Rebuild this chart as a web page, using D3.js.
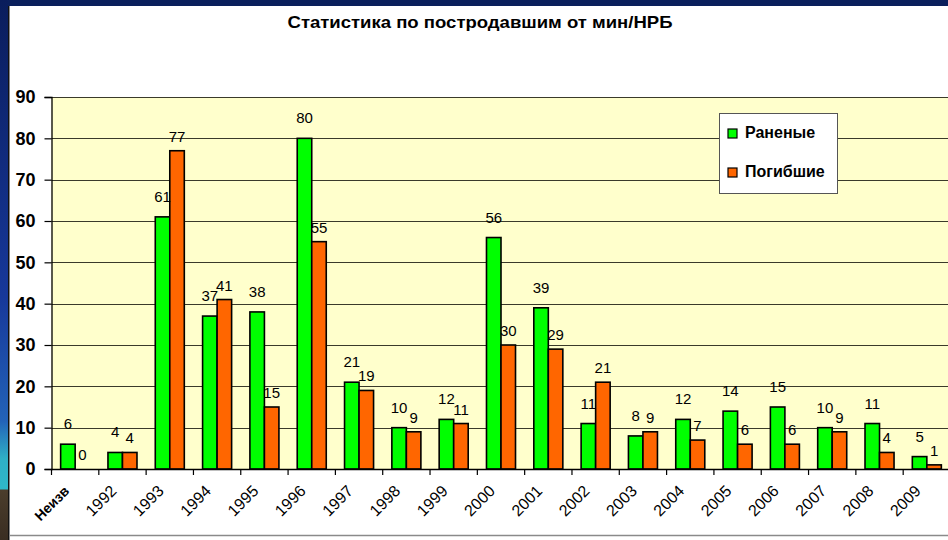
<!DOCTYPE html>
<html>
<head>
<meta charset="utf-8">
<script src="https://cdn.jsdelivr.net/npm/d3@7"></script>
<style>
    html, body { margin: 0; padding: 0; background: #fff; }
    svg { display: block; font-family: "Liberation Sans", Arial, sans-serif; }
</style>
</head>
<body>
<div id="chart"></div>
<script>
(function(){
    "use strict";

    var categories = ["Неизв", "1992", "1993", "1994", "1995", "1996", "1997", "1998", "1999", "2000",
                      "2001", "2002", "2003", "2004", "2005", "2006", "2007", "2008", "2009"];
    var wounded = [6, 4, 61, 37, 38, 80, 21, 10, 12, 56, 39, 11, 8, 12, 14, 15, 10, 11, 3];
    var killed  = [0, 4, 77, 41, 15, 55, 19, 9, 11, 30, 29, 21, 9, 7, 6, 6, 9, 4, 1];
    // labels as printed on the chart (the 2009 wounded bar is drawn lower than its label)
    var woundedLabels = [6, 4, 61, 37, 38, 80, 21, 10, 12, 56, 39, 11, 8, 12, 14, 15, 10, 11, 5];
    var killedLabels  = [0, 4, 77, 41, 15, 55, 19, 9, 11, 30, 29, 21, 9, 7, 6, 6, 9, 4, 1];
    var seriesNames = ["Раненые", "Погибшие"];
    var yTicks = [0, 10, 20, 30, 40, 50, 60, 70, 80, 90];

    var width = 948, height = 540;
    var plot = { left: 51.5, right: 950.5, top: 97, bottom: 469 };
    var colors = ["#00ff00", "#ff6600"];

    var svg = d3.select("#chart")
        .append("svg")
        .attr("width", width)
        .attr("height", height);

    // frame: navy bar on top, gradient strip on the left
    var grad = svg.append("defs").append("linearGradient")
        .attr("id", "leftStrip")
        .attr("x1", 0).attr("y1", 0).attr("x2", 0).attr("y2", 1);
    [["0%", "#0a1d5c"], ["55%", "#17389a"], ["78%", "#2363b8"], ["85%", "#2fb0c6"],
     ["90.5%", "#2fb8c8"], ["90.8%", "#4b3d2c"], ["100%", "#3a2e22"]].forEach(function(s) {
        grad.append("stop").attr("offset", s[0]).attr("stop-color", s[1]);
    });

    svg.append("rect")
        .attr("x", 0).attr("y", 0)
        .attr("width", width).attr("height", 6)
        .attr("fill", "#0a1f5c");
    svg.append("rect")
        .attr("x", 0).attr("y", 0)
        .attr("width", 8).attr("height", height)
        .attr("fill", "url(#leftStrip)");
    svg.append("rect")
        .attr("x", 8).attr("y", 6)
        .attr("width", 1.5).attr("height", height - 6)
        .attr("fill", "#111");
    svg.append("line")
        .attr("x1", 9).attr("x2", width)
        .attr("y1", 535.5).attr("y2", 535.5)
        .attr("stroke", "#8a8a8a")
        .attr("stroke-width", 1.5);

    svg.append("text")
        .attr("x", 480)
        .attr("y", 28)
        .attr("text-anchor", "middle")
        .attr("font-size", 17)
        .attr("font-weight", "bold")
        .attr("textLength", 385)
        .attr("lengthAdjust", "spacingAndGlyphs")
        .text("Статистика по постродавшим от мин/НРБ");

    var y = d3.scaleLinear().domain([0, 90]).range([plot.bottom, plot.top]);
    var x0 = d3.scaleBand().domain(categories).range([plot.left, plot.right]).padding(0);
    var x1 = d3.scaleBand().domain([0, 1]).range([0, x0.bandwidth()])
        .paddingInner(0).paddingOuter(0.63);

    // plot area
    svg.append("rect")
        .attr("x", plot.left).attr("y", plot.top)
        .attr("width", width - plot.left).attr("height", plot.bottom - plot.top)
        .attr("fill", "#ffffcc");

    svg.selectAll("line.grid")
        .data(yTicks.slice(1))
        .enter()
        .append("line")
        .attr("class", "grid")
        .attr("x1", plot.left).attr("x2", width)
        .attr("y1", function(d) { return Math.round(y(d)) + 0.5; })
        .attr("y2", function(d) { return Math.round(y(d)) + 0.5; })
        .attr("stroke", "#3a3a2a")
        .attr("stroke-width", 1.2);

    // y axis
    var yAxis = svg.append("g")
        .attr("transform", "translate(" + plot.left + ",0)")
        .call(d3.axisLeft(y).tickValues(yTicks).tickSize(7).tickPadding(9));
    yAxis.select(".domain").attr("stroke", "#000").attr("stroke-width", 1.3);
    yAxis.selectAll(".tick line").attr("stroke", "#000").attr("stroke-width", 1.2);
    yAxis.selectAll(".tick text")
        .attr("font-family", "\"Liberation Sans\", Arial, sans-serif")
        .attr("font-size", 18)
        .attr("font-weight", "bold")
        .attr("fill", "#000");

    // bars
    var groups = svg.selectAll("g.cat")
        .data(categories)
        .enter()
        .append("g")
        .attr("class", "cat")
        .attr("transform", function(d) { return "translate(" + x0(d) + ",0)"; });

    [wounded, killed].forEach(function(values, s) {
        groups.append("rect")
            .attr("x", x1(s))
            .attr("y", function(d, i) { return y(values[i]); })
            .attr("width", x1.bandwidth())
            .attr("height", function(d, i) { return y(0) - y(values[i]); })
            .attr("fill", colors[s])
            .attr("stroke", "#000")
            .attr("stroke-width", 1.6);
    });

    [woundedLabels, killedLabels].forEach(function(labels, s) {
        var values = s === 0 ? wounded : killed;
        var lift = s === 0 ? 15 : 9;
        groups.append("text")
            .attr("x", x1(s) + x1.bandwidth() / 2)
            .attr("y", function(d, i) { return y(values[i]) - lift; })
            .attr("text-anchor", "middle")
            .attr("font-size", 15)
            .attr("fill", "#000")
            .text(function(d, i) { return labels[i]; });
    });

    // x axis
    svg.append("line")
        .attr("x1", plot.left).attr("x2", width)
        .attr("y1", plot.bottom + 0.5).attr("y2", plot.bottom + 0.5)
        .attr("stroke", "#000")
        .attr("stroke-width", 1.5);

    svg.selectAll("line.xtick")
        .data(categories)
        .enter()
        .append("line")
        .attr("class", "xtick")
        .attr("x1", function(d) { return x0(d); })
        .attr("x2", function(d) { return x0(d); })
        .attr("y1", plot.bottom)
        .attr("y2", plot.bottom + 6)
        .attr("stroke", "#000")
        .attr("stroke-width", 1.2);

    svg.selectAll("text.xlabel")
        .data(categories)
        .enter()
        .append("text")
        .attr("class", "xlabel")
        .attr("text-anchor", "end")
        .attr("font-size", function(d, i) { return i === 0 ? 14 : 16; })
        .attr("font-weight", function(d, i) { return i === 0 ? "bold" : "normal"; })
        .attr("fill", "#000")
        .attr("transform", function(d) {
            return "translate(" + (x0(d) + x0.bandwidth() / 2 - 5) + "," + (plot.bottom + 23) + ") rotate(-45)";
        })
        .text(function(d) { return d; });

    // legend
    var legend = svg.append("g").attr("transform", "translate(719,113)");
    legend.append("rect")
        .attr("x", 0.5).attr("y", 0.5)
        .attr("width", 118).attr("height", 80)
        .attr("fill", "#fff")
        .attr("stroke", "#555")
        .attr("stroke-width", 1);

    var items = legend.selectAll("g.item")
        .data(seriesNames)
        .enter()
        .append("g")
        .attr("class", "item")
        .attr("transform", function(d, i) { return "translate(9," + (16 + i * 39) + ")"; });
    items.append("rect")
        .attr("width", 9).attr("height", 9)
        .attr("fill", function(d, i) { return colors[i]; })
        .attr("stroke", "#000")
        .attr("stroke-width", 1.2);
    items.append("text")
        .attr("x", 17)
        .attr("y", 9)
        .attr("font-size", 16)
        .attr("font-weight", "bold")
        .attr("fill", "#000")
        .text(function(d) { return d; });
})();
</script>
</body>
</html>
